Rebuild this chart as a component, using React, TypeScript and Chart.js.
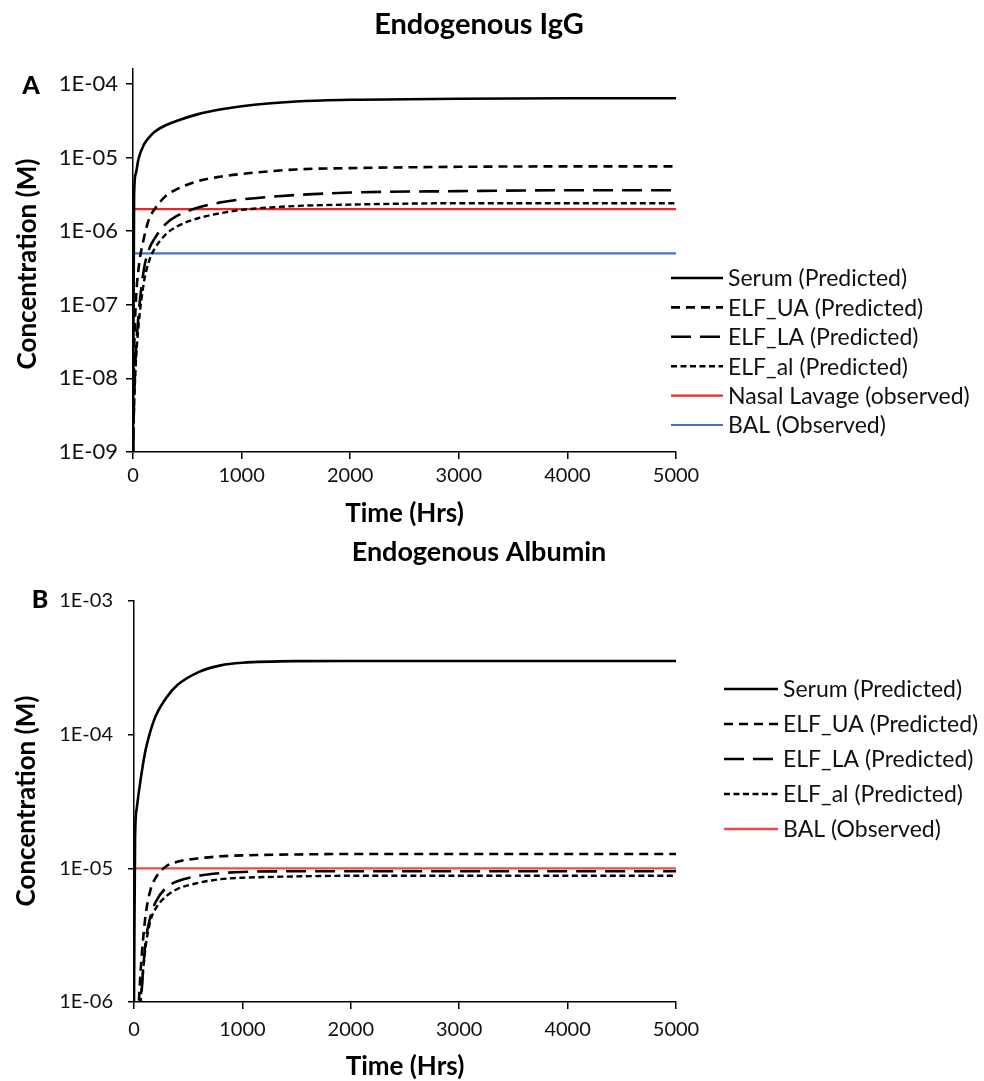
import React, { useEffect, useRef } from 'react';
import { Chart, registerables } from 'chart.js';

Chart.register(...registerables);

const FONT = 'Lato, "Open Sans", sans-serif';

// ---------- Panel A : Endogenous IgG ----------
const timeA = [0, 10, 25, 50, 100, 150, 200, 300, 400, 600, 800, 1000, 1500, 2000, 3000, 4000, 5000];
const serumA = [1e-9, 3e-6, 6e-6, 9.5e-6, 1.5e-5, 1.9e-5, 2.25e-5, 2.75e-5, 3.15e-5, 3.9e-5, 4.5e-5, 5.0e-5, 5.8e-5, 6.1e-5, 6.3e-5, 6.4e-5, 6.4e-5];
const elfUaA = [1e-9, 2e-8, 1e-7, 3e-7, 8e-7, 1.5e-6, 2e-6, 3e-6, 3.7e-6, 4.8e-6, 5.5e-6, 6e-6, 6.9e-6, 7.2e-6, 7.5e-6, 7.6e-6, 7.6e-6];
const elfLaA = [1e-9, 5e-9, 2e-8, 7e-8, 3e-7, 5.8e-7, 8e-7, 1.25e-6, 1.6e-6, 2.1e-6, 2.45e-6, 2.7e-6, 3.1e-6, 3.35e-6, 3.5e-6, 3.6e-6, 3.6e-6];
const elfAlA = [1e-9, 4e-9, 1.5e-8, 5e-8, 2e-7, 4e-7, 5.8e-7, 9e-7, 1.15e-6, 1.5e-6, 1.75e-6, 1.95e-6, 2.2e-6, 2.3e-6, 2.4e-6, 2.4e-6, 2.4e-6];
const obsTime = [0, 5000];
const nasalA = [2e-6, 2e-6];
const balA = [5e-7, 5e-7];
const yTickValuesA = [1e-9, 1e-8, 1e-7, 1e-6, 1e-5, 1e-4];
const yTickLabelsA = ['1E-09', '1E-08', '1E-07', '1E-06', '1E-05', '1E-04'];

// ---------- Panel B : Endogenous Albumin ----------
const timeB = [0, 10, 25, 50, 100, 150, 200, 300, 400, 600, 800, 1000, 1500, 2000, 3000, 4000, 5000];
const serumB = [1e-6, 1.7e-5, 2.8e-5, 4e-5, 7.2e-5, 1.05e-4, 1.38e-4, 1.9e-4, 2.35e-4, 2.95e-4, 3.3e-4, 3.45e-4, 3.55e-4, 3.56e-4, 3.56e-4, 3.56e-4, 3.56e-4];
const elfUaB = [1e-7, 1.5e-7, 4e-7, 1.2e-6, 4e-6, 6.8e-6, 8.5e-6, 1.04e-5, 1.12e-5, 1.19e-5, 1.23e-5, 1.25e-5, 1.27e-5, 1.28e-5, 1.28e-5, 1.28e-5, 1.28e-5];
const elfLaB = [1e-7, 1e-7, 2e-7, 6e-7, 2.5e-6, 4.3e-6, 5.6e-6, 7.2e-6, 8e-6, 8.8e-6, 9.2e-6, 9.4e-6, 9.5e-6, 9.5e-6, 9.5e-6, 9.5e-6, 9.5e-6];
const elfAlB = [1e-7, 1e-7, 2e-7, 7e-7, 2.3e-6, 4e-6, 5e-6, 6.2e-6, 7e-6, 7.8e-6, 8.3e-6, 8.5e-6, 8.7e-6, 8.8e-6, 8.8e-6, 8.8e-6, 8.8e-6];
const balB = [1e-5, 1e-5];
const yTickValuesB = [1e-6, 1e-5, 1e-4, 1e-3];
const yTickLabelsB = ['1E-06', '1E-05', '1E-04', '1E-03'];

const xTickValues = [0, 1000, 2000, 3000, 4000, 5000];

const pts = (xs: number[], ys: number[]) => xs.map((x, i) => ({ x, y: ys[i] }));

const styleSolid = { borderColor: '#000000', borderWidth: 2.6, borderDash: [] as number[] };
const styleUA = { borderColor: '#000000', borderWidth: 2.6, borderDash: [9, 6] };
const styleLA = { borderColor: '#000000', borderWidth: 2.6, borderDash: [20, 9] };
const styleAl = { borderColor: '#000000', borderWidth: 2.4, borderDash: [6, 3.5] };
const styleRed = { borderColor: '#e8262b', borderWidth: 2.2, borderDash: [] as number[] };
const styleRedB = { borderColor: '#f24a4a', borderWidth: 2.4, borderDash: [] as number[] };
const styleBlue = { borderColor: '#4472c4', borderWidth: 2.2, borderDash: [] as number[] };

function ds(label: string, data: any[], st: any) {
  return {
    label,
    data,
    ...st,
    pointRadius: 0,
    fill: false,
    cubicInterpolationMode: 'monotone',
    borderCapStyle: 'butt',
  };
}

interface PanelCfg {
  top: number;
  height: number;
  datasets: any[];
  yMin: number;
  yMax: number;
  yTickValues: number[];
  yTickLabels: string[];
  yTickSize: number;
  yTickLen: number;
  yTickPad: number;
  xTickPad: number;
  padding: { left: number; right: number; top: number; bottom: number };
  title: string;
  titleSize: number;
  titleY: number;
  letter: string;
  letterX: number;
  letterY: number;
  yTitleX: number;
  yTitleY: number;
  xTitleY: number;
  legendX0: number;
  legendX1: number;
  legendTextX: number;
  legendY0: number;
  legendStep: number;
}

function makeOverlay(p: PanelCfg) {
  return {
    id: 'overlay',
    afterDraw(chart: any) {
      const ctx = chart.ctx as CanvasRenderingContext2D;
      const ca = chart.chartArea;
      ctx.save();
      ctx.fillStyle = '#000';
      ctx.textBaseline = 'middle';
      // title
      ctx.font = `bold ${p.titleSize}px ${FONT}`;
      ctx.textAlign = 'center';
      ctx.fillText(p.title, 479, p.titleY);
      // panel letter
      ctx.font = `900 25px ${FONT}`;
      ctx.fillText(p.letter, p.letterX, p.letterY);
      // x title
      ctx.font = `bold 26px ${FONT}`;
      ctx.fillText('Time (Hrs)', (ca.left + ca.right) / 2, p.xTitleY);
      // y title
      ctx.save();
      ctx.translate(p.yTitleX, p.yTitleY);
      ctx.rotate(-Math.PI / 2);
      ctx.fillText('Concentration (M)', 0, 0);
      ctx.restore();
      // legend
      ctx.font = `23px ${FONT}`;
      ctx.textAlign = 'left';
      chart.data.datasets.forEach((d: any, i: number) => {
        const y = p.legendY0 + i * p.legendStep;
        ctx.save();
        ctx.strokeStyle = d.borderColor;
        ctx.lineWidth = d.borderWidth;
        ctx.setLineDash(d.borderDash || []);
        ctx.beginPath();
        ctx.moveTo(p.legendX0, y);
        ctx.lineTo(p.legendX1, y);
        ctx.stroke();
        ctx.restore();
        ctx.fillStyle = '#111';
        ctx.fillText(d.label, p.legendTextX, y + 1);
      });
      ctx.restore();
    },
  };
}

function buildConfig(p: PanelCfg): any {
  return {
    type: 'line',
    data: { datasets: p.datasets },
    options: {
      animation: false,
      responsive: false,
      devicePixelRatio: 1,
      layout: { padding: p.padding },
      plugins: {
        legend: { display: false },
        title: { display: false },
        tooltip: { enabled: false },
      },
      scales: {
        x: {
          type: 'linear',
          min: 0,
          max: 5000,
          afterBuildTicks: (s: any) => {
            s.ticks = xTickValues.map((v) => ({ value: v }));
          },
          afterFit: (s: any) => {
            s.height = 80;
          },
          grid: { drawOnChartArea: false, drawTicks: true, tickLength: 7, color: '#000', lineWidth: 1.5 },
          border: { display: true, color: '#000', width: 1.5 },
          ticks: {
            padding: p.xTickPad,
            color: '#111',
            font: { family: FONT, size: 20 },
            maxRotation: 0,
            autoSkip: false,
            callback: (v: any) => String(v),
          },
        },
        y: {
          type: 'logarithmic',
          min: p.yMin,
          max: p.yMax,
          afterBuildTicks: (s: any) => {
            s.ticks = p.yTickValues.map((v) => ({ value: v }));
          },
          afterFit: (s: any) => {
            s.width = 80;
          },
          grid: { drawOnChartArea: false, drawTicks: true, tickLength: p.yTickLen, color: '#000', lineWidth: 1.5 },
          border: { display: true, color: '#000', width: 1.5 },
          ticks: {
            padding: p.yTickPad,
            color: '#111',
            font: { family: FONT, size: p.yTickSize },
            autoSkip: false,
            callback: (_v: any, i: number) => p.yTickLabels[i],
          },
        },
      },
    },
    plugins: [makeOverlay(p)],
  };
}

const panelA: PanelCfg = {
  top: 0,
  height: 540,
  datasets: [
    ds('Serum (Predicted)', pts(timeA, serumA), styleSolid),
    ds('ELF_UA (Predicted)', pts(timeA, elfUaA), styleUA),
    ds('ELF_LA (Predicted)', pts(timeA, elfLaA), styleLA),
    ds('ELF_al (Predicted)', pts(timeA, elfAlA), styleAl),
    ds('Nasal Lavage (observed)', pts(obsTime, nasalA), styleRed),
    ds('BAL (Observed)', pts(obsTime, balA), styleBlue),
  ],
  yMin: 1e-9,
  yMax: 1.6e-4,
  yTickValues: yTickValuesA,
  yTickLabels: yTickLabelsA,
  yTickSize: 22,
  yTickLen: 7,
  yTickPad: 8,
  xTickPad: 5,
  padding: { left: 53, right: 308, top: 69, bottom: 8 },
  title: 'Endogenous IgG',
  titleSize: 29,
  titleY: 25,
  letter: 'A',
  letterX: 31,
  letterY: 86,
  yTitleX: 28,
  yTitleY: 264,
  xTitleY: 514,
  legendX0: 671,
  legendX1: 723,
  legendTextX: 728,
  legendY0: 278,
  legendStep: 29.4,
};

const panelB: PanelCfg = {
  top: 530,
  height: 551,
  datasets: [
    ds('Serum (Predicted)', pts(timeB, serumB), styleSolid),
    ds('ELF_UA (Predicted)', pts(timeB, elfUaB), styleUA),
    ds('ELF_LA (Predicted)', pts(timeB, elfLaB), styleLA),
    ds('ELF_al (Predicted)', pts(timeB, elfAlB), styleAl),
    ds('BAL (Observed)', pts(obsTime, balB), styleRedB),
  ],
  yMin: 1e-6,
  yMax: 1e-3,
  yTickValues: yTickValuesB,
  yTickLabels: yTickLabelsB,
  yTickSize: 20,
  yTickLen: 6,
  yTickPad: 15,
  xTickPad: 9,
  padding: { left: 54, right: 308, top: 71, bottom: -1 },
  title: 'Endogenous Albumin',
  titleSize: 27,
  titleY: 22,
  letter: 'B',
  letterX: 40,
  letterY: 70,
  yTitleX: 27,
  yTitleY: 271,
  xTitleY: 537,
  legendX0: 724,
  legendX1: 778,
  legendTextX: 783,
  legendY0: 159,
  legendStep: 35,
};

function Panel({ cfg }: { cfg: PanelCfg }) {
  const ref = useRef<HTMLCanvasElement>(null);
  useEffect(() => {
    const chart = new Chart(ref.current as HTMLCanvasElement, buildConfig(cfg));
    return () => chart.destroy();
  }, [cfg]);
  return (
    <canvas
      ref={ref}
      width={984}
      height={cfg.height}
      style={{ position: 'absolute', left: 0, top: cfg.top, width: 984, height: cfg.height }}
    />
  );
}

export default function App() {
  return (
    <div style={{ position: 'absolute', left: 0, top: 0, width: 984, height: 1081, background: '#fff' }}>
      <Panel cfg={panelA} />
      <Panel cfg={panelB} />
    </div>
  );
}
